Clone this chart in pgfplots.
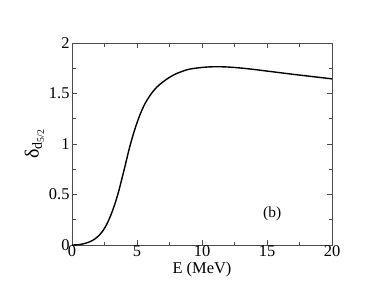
\documentclass[border=0pt]{standalone}
\usepackage{pgfplots}
\pgfplotsset{compat=1.18}
\usepackage{fontspec}
\setmainfont{Liberation Serif}
\begin{document}
\begin{tikzpicture}
\begin{axis}[
  name=ax,
  scale only axis,
  width=260bp, height=202bp,
  xmin=0, xmax=20, ymin=0, ymax=2,
  xtick={0,5,10,15,20},
  ytick={0,0.5,1,1.5,2},
  minor x tick num=1,
  minor y tick num=1,
  tick align=inside,
  major tick length=5bp,
  minor tick length=3.5bp,
  axis line style={black!70, line width=0.7bp},
  every tick/.style={black!70, line width=0.6bp},
  /pgf/number format/assume math mode=true,
  yticklabel style={/pgf/number format/fixed, xshift=1bp},
  tick label style={font=\fontsize{16.5}{18}\selectfont},
  xticklabel style={yshift=3bp},
  xlabel={E (MeV)},
  xlabel style={font=\fontsize{16.5}{18}\selectfont, yshift=1bp},
  ylabel={δ\textsubscript{d\textsubscript{5/2}}},
  ylabel style={font=\fontsize{20}{22}\selectfont, yshift=-2bp},
  clip=false,
]
\addplot[black, line width=1.4bp, smooth, tension=0.6] coordinates {
(0,0) (0.5,0.003) (1,0.016) (1.5,0.04) (2,0.085) (2.5,0.165) (3,0.30) (3.5,0.49)
(4,0.74) (4.5,1.00) (5,1.21) (5.5,1.37) (6,1.48) (6.5,1.56) (7,1.615) (7.5,1.66)
(8,1.695) (8.5,1.72) (9,1.74) (10,1.758) (11,1.765) (12,1.762) (13,1.752) (14,1.738) (15,1.722)
(16,1.706) (17,1.69) (18,1.675) (19,1.66) (20,1.645)
};
\node[font=\fontsize{15.5}{17}\selectfont] at (axis cs:15.4,0.31) {(b)};
\end{axis}
\path ([xshift=-72bp,yshift=-44bp]ax.south west) rectangle ([xshift=42bp,yshift=43bp]ax.north east);
\end{tikzpicture}
\end{document}
